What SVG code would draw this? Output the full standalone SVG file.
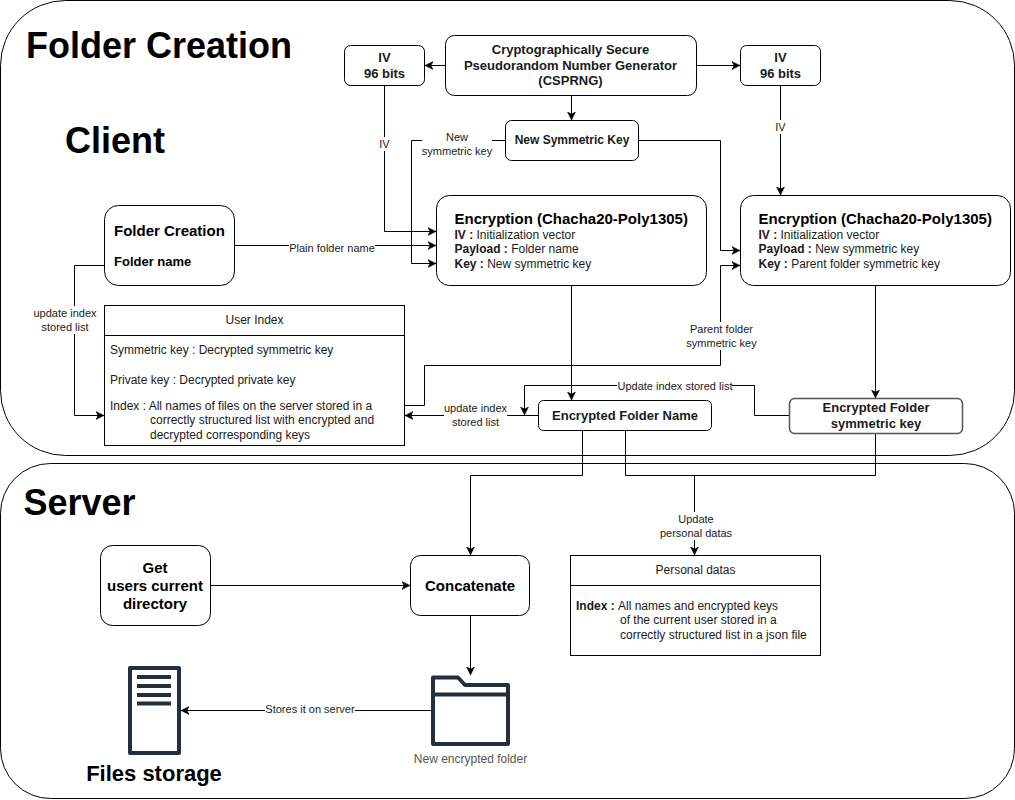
<svg xmlns="http://www.w3.org/2000/svg" width="1015" height="800" viewBox="0 0 1015 800">
<style>
text{font-family:"Liberation Sans",Arial,sans-serif;fill:#000}
.box{fill:#fff;stroke:#000;stroke-width:1}
.panel{fill:#fff;stroke:#000;stroke-width:1}
.e{fill:none;stroke:#000;stroke-width:1}
.lb{fill:#fff}
.el{font-size:11px;text-anchor:middle;fill:#1a1a1a}
.t{font-size:12px;fill:#1a1a1a}
.b13{font-size:13px;font-weight:bold;text-anchor:middle;fill:#1a1a1a}
.b12{font-size:12px;font-weight:bold;text-anchor:middle;fill:#1a1a1a}
.h15{font-size:15px;font-weight:bold}
.c{text-anchor:middle}
.big{font-size:36px;font-weight:bold}
.ic{fill:none;stroke:#232f3e;stroke-width:4;stroke-linejoin:round}
.grey{stroke:#555;stroke-width:1.5}
.cap{font-size:12px;text-anchor:middle;fill:#555}
</style>
<defs>
<marker id="a" markerUnits="userSpaceOnUse" markerWidth="10" markerHeight="10" refX="8" refY="4.5" orient="auto">
<path d="M0 0.5L8 4.5L0 8.5L2 4.5Z" fill="#000" stroke="#000" stroke-width="0.5"/>
</marker>
</defs>
<g id="panel-client"><rect class="panel" x="0.5" y="0.5" width="1014" height="455" rx="65" ry="65"/>
<text class="big" x="26" y="58">Folder Creation</text>
<text class="big" x="65" y="153">Client</text></g>
<g id="panel-server"><rect class="panel" x="0.5" y="463.5" width="1014" height="335" rx="50" ry="50"/>
<text class="big" x="23.500" y="515">Server</text></g>
<g id="connectors">
<path class="e" marker-end="url(#a)" d="M445 65.500H425"/>
<path class="e" marker-end="url(#a)" d="M697 65.500H740"/>
<path class="e" marker-end="url(#a)" d="M571.500 95V120"/>
<path class="e" marker-end="url(#a)" d="M384.500 85V231.500H436"/>
<path class="e" marker-end="url(#a)" d="M780.500 85V195"/>
<path class="e" marker-end="url(#a)" d="M505 140.500H411.500V263.500H436"/>
<path class="e" marker-end="url(#a)" d="M638 140.500H720.500V250.500H740"/>
<path class="e" marker-end="url(#a)" d="M234 245.500H436"/>
<path class="e" marker-end="url(#a)" d="M104 265.500H74.500V415.500H104"/>
<path class="e" marker-end="url(#a)" d="M404 405.500H424.500V365.500H720.500V265.500H740"/>
<path class="e" marker-end="url(#a)" d="M571.500 285V400"/>
<path class="e" marker-end="url(#a)" d="M875.500 285V398"/>
<path class="e" marker-end="url(#a)" d="M789 415.500H754.500V385.500H524.500V415"/>
<path class="e" marker-end="url(#a)" d="M538 415.500H405"/>
<path class="e" marker-end="url(#a)" d="M582.500 430V475.500H470.500V555"/>
<path class="e" d="M625.500 430V475.500H875.500V433"/>
<path class="e" marker-end="url(#a)" d="M694.500 475.500V555"/>
<path class="e" marker-end="url(#a)" d="M210 585.500H410"/>
<path class="e" marker-end="url(#a)" d="M470.500 615V675"/>
<path class="e" marker-end="url(#a)" d="M432 710.500H181"/>
<rect class="lb" x="378" y="137" width="13" height="14"/><text class="el" x="384.500" y="148">IV</text>
<rect class="lb" x="774" y="120" width="13" height="14"/><text class="el" x="780.500" y="131">IV</text>
<rect class="lb" x="422" y="130" width="70" height="28"/><text class="el" x="457" y="141">New</text><text class="el" x="457" y="155">symmetric key</text>
<rect class="lb" x="289" y="240" width="86" height="13"/><text class="el" x="332" y="252">Plain folder name</text>
<rect class="lb" x="34" y="306" width="62" height="28"/><text class="el" x="65" y="317">update index</text><text class="el" x="65" y="331">stored list</text>
<rect class="lb" x="686" y="322" width="72" height="28"/><text class="el" x="721.500" y="333">Parent folder</text><text class="el" x="721.500" y="347">symmetric key</text>
<rect class="lb" x="617" y="379" width="115" height="13"/><text class="el" x="675" y="390">Update index stored list</text>
<rect class="lb" x="444" y="402" width="63" height="28"/><text class="el" x="475.500" y="412">update index</text><text class="el" x="475.500" y="426">stored list</text>
<rect class="lb" x="660" y="512" width="73" height="28"/><text class="el" x="696" y="523">Update</text><text class="el" x="696" y="537">personal datas</text>
<rect class="lb" x="265" y="703" width="90" height="13"/><text class="el" x="310" y="713">Stores it on server</text>
</g>
<g id="csprng"><rect class="box" x="445.500" y="35.500" width="251" height="60" rx="9"/>
<text class="b13" x="570.500" y="54">Cryptographically Secure</text><text class="b13" x="570.500" y="70">Pseudorandom Number Generator</text><text class="b13" x="570.500" y="85">(CSPRNG)</text></g>
<g id="iv-left"><rect class="box" x="344.500" y="45.500" width="80" height="40" rx="6"/>
<text class="b13" x="384.500" y="62">IV</text><text class="b13" x="384.500" y="78">96 bits</text></g>
<g id="iv-right"><rect class="box" x="740.500" y="45.500" width="80" height="40" rx="6"/>
<text class="b13" x="780.500" y="62">IV</text><text class="b13" x="780.500" y="78">96 bits</text></g>
<g id="new-key"><rect class="box" x="505.500" y="120.500" width="133" height="40" rx="6"/>
<text class="b12" x="572" y="144">New Symmetric Key</text></g>
<g id="enc-name"><rect class="box" x="436.500" y="195.500" width="270" height="90" rx="13"/>
<text class="h15" x="454.500" y="224">Encryption (Chacha20-Poly1305)</text>
<text class="t" x="454.500" y="239"><tspan font-weight="bold">IV : </tspan>Initialization vector</text>
<text class="t" x="454.500" y="253"><tspan font-weight="bold">Payload : </tspan>Folder name</text>
<text class="t" x="454.500" y="268"><tspan font-weight="bold">Key : </tspan>New symmetric key</text></g>
<g id="enc-key"><rect class="box" x="740.500" y="195.500" width="270" height="90" rx="13"/>
<text class="h15" x="758.500" y="224">Encryption (Chacha20-Poly1305)</text>
<text class="t" x="758.500" y="239"><tspan font-weight="bold">IV : </tspan>Initialization vector</text>
<text class="t" x="758.500" y="253"><tspan font-weight="bold">Payload : </tspan>New symmetric key</text>
<text class="t" x="758.500" y="268"><tspan font-weight="bold">Key : </tspan>Parent folder symmetric key</text></g>
<g id="folder-creation"><rect class="box" x="104.500" y="205.500" width="130" height="80" rx="14"/>
<text class="h15" x="114" y="236">Folder Creation</text>
<text x="114" y="266" font-size="13" font-weight="bold">Folder name</text></g>
<g id="user-index"><rect class="box" x="104.500" y="305.500" width="300" height="140"/><path class="e" d="M104.500 335.500H404.500"/>
<text class="t c" x="254.500" y="324">User Index</text>
<text class="t" x="110" y="354">Symmetric key : Decrypted symmetric key</text>
<text class="t" x="110" y="384">Private key : Decrypted private key</text>
<text class="t" x="110" y="410">Index : All names of files on the server stored in a</text>
<text class="t" x="150" y="424">correctly structured list with encrypted and</text>
<text class="t" x="150" y="439">decrypted corresponding keys</text></g>
<g id="enc-folder-name"><rect class="box" x="538.500" y="400.500" width="173" height="30" rx="5"/>
<text class="b13" x="625" y="420">Encrypted Folder Name</text></g>
<g id="enc-folder-key"><rect class="box grey" x="789.500" y="398.500" width="173" height="35" rx="5"/>
<text class="b13" x="876" y="412">Encrypted Folder</text><text class="b13" x="876" y="428">symmetric key</text></g>
<g id="get-dir"><rect class="box" x="100.500" y="545.500" width="110" height="80" rx="12"/>
<text class="h15 c" x="155" y="573">Get</text><text class="h15 c" x="155" y="591">users current</text><text class="h15 c" x="155" y="609">directory</text></g>
<g id="concatenate"><rect class="box" x="410.500" y="555.500" width="119" height="60" rx="10"/>
<text class="h15 c" x="470" y="591">Concatenate</text></g>
<g id="personal-datas"><rect class="box" x="570.500" y="555.500" width="250" height="100"/><path class="e" d="M570.500 585.500H820.500"/>
<text class="t c" x="695.500" y="574">Personal datas</text>
<text class="t" x="576" y="610"><tspan font-weight="bold">Index : </tspan>All names and encrypted keys</text>
<text class="t" x="620" y="624">of the current user stored in a</text>
<text class="t" x="620" y="639">correctly structured list in a json file</text></g>
<g id="new-folder"><path class="ic" d="M433 677.500H458L465 685H508V744H433ZM433 694.500H508"/>
<text class="cap" x="470.500" y="763">New encrypted folder</text></g>
<g id="files-storage"><path class="ic" d="M130 668H179V753H130Z"/><path d="M137 677H171M137 686H171M137 695H171M137 703.500H171" fill="none" stroke="#232f3e" stroke-width="4"/>
<text class="c" x="154" y="781" font-size="22" font-weight="bold">Files storage</text></g>
</svg>
